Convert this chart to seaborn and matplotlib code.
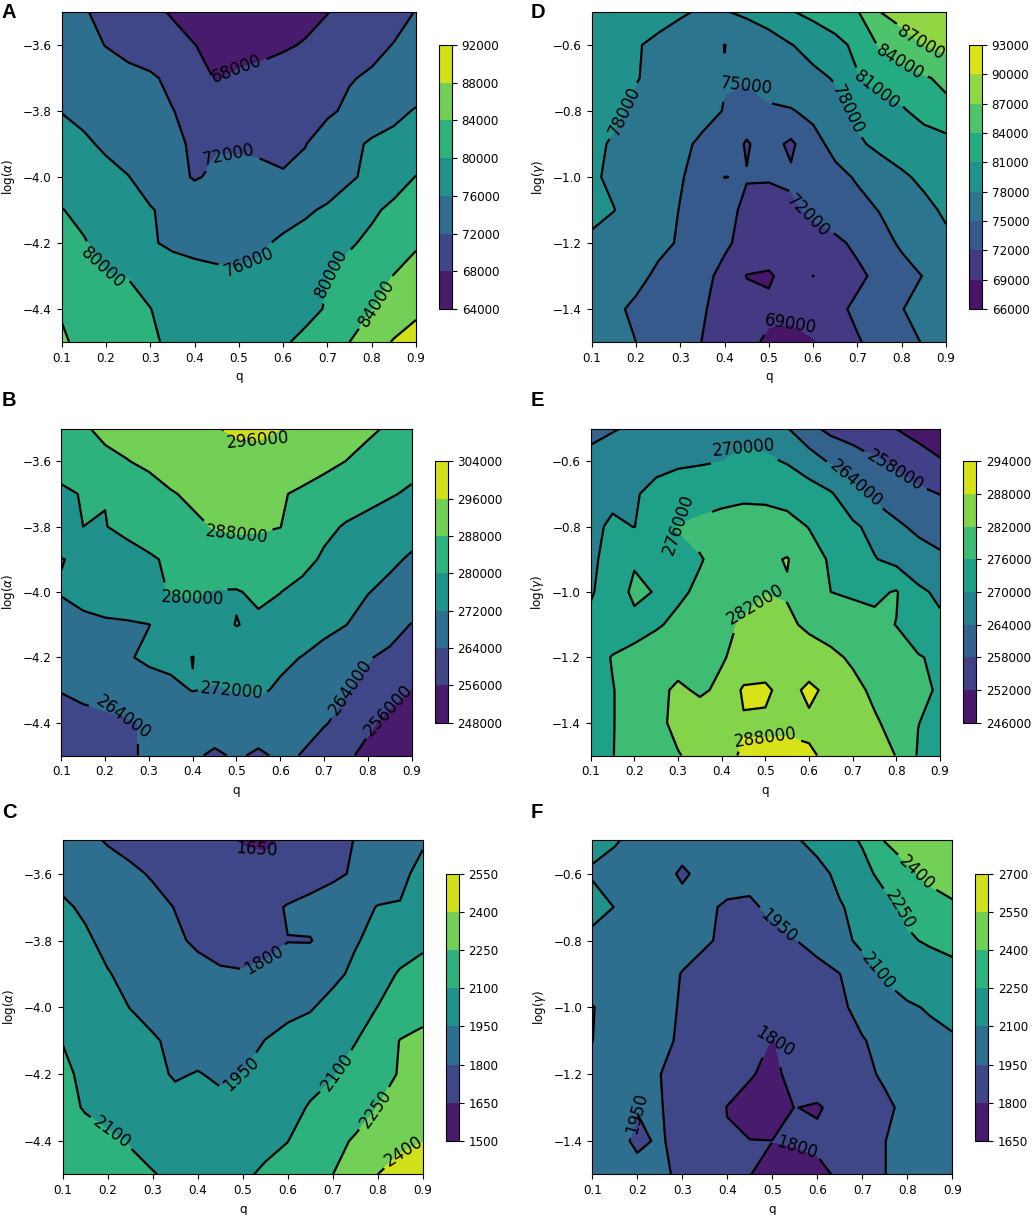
import numpy as np
import matplotlib
matplotlib.use("Agg")
import matplotlib.pyplot as plt
from matplotlib.ticker import FormatStrFormatter
import seaborn as sns

# ---------------- data ----------------
q_values = [0.1, 0.15, 0.2, 0.25, 0.3, 0.35, 0.4, 0.45, 0.5, 0.55, 0.6, 0.65, 0.7, 0.75, 0.8, 0.85, 0.9]
log_alpha = [-3.5, -3.6, -3.7, -3.8, -3.9, -4.0, -4.1, -4.2, -4.3, -4.4, -4.5]
log_gamma = [-0.5, -0.6, -0.7, -0.8, -0.9, -1.0, -1.1, -1.2, -1.3, -1.4, -1.5]

# Panel A (thousands), rows from log(alpha)=-3.5 down to -4.5
A_k = [
    [73.2, 72.3, 71.0, 69.9, 68.8, 67.7, 66.5, 65.8, 65.5, 65.6, 66.0, 66.8, 67.9, 68.9, 70.0, 71.0, 72.1],
    [73.5, 73.0, 71.9, 71.0, 70.0, 69.1, 68.05, 67.2, 66.8, 66.9, 67.5, 68.3, 69.3, 70.2, 71.2, 72.1, 73.0],
    [74.8, 74.3, 73.6, 72.9, 72.5, 71.2, 69.0, 67.8, 68.5, 69.1, 69.8, 70.5, 71.1, 71.8, 72.4, 73.1, 73.8],
    [75.9, 75.2, 74.4, 73.7, 72.9, 72.1, 71.0, 70.2, 69.8, 69.8, 70.0, 70.5, 71.5, 72.6, 73.8, 75.0, 76.3],
    [77.3, 76.5, 75.5, 74.5, 73.5, 72.6, 71.6, 71.7, 71.6, 71.5, 71.4, 71.9, 73.6, 75.1, 76.5, 77.2, 77.8],
    [78.3, 77.6, 76.9, 76.1, 74.7, 73.15, 71.7, 72.6, 72.9, 72.6, 72.2, 72.8, 74.0, 75.5, 76.9, 78.4, 80.1],
    [80.1, 79.3, 78.3, 77.2, 76.2, 75.2, 74.5, 74.2, 74.0, 74.3, 74.8, 75.5, 76.5, 77.9, 79.4, 80.8, 82.2],
    [81.0, 80.2, 79.1, 77.9, 76.4, 75.3, 74.8, 74.6, 74.7, 75.6, 76.5, 77.3, 78.6, 79.6, 80.8, 82.1, 83.6],
    [81.5, 80.8, 80.1, 79.9, 79.0, 78.0, 77.3, 76.8, 76.5, 76.6, 77.2, 78.3, 79.9, 81.3, 82.6, 84.1, 85.3],
    [83.8, 82.8, 81.9, 81.0, 80.05, 79.0, 78.2, 77.6, 77.3, 77.5, 78.1, 79.0, 80.3, 82.2, 83.9, 85.5, 87.0],
    [84.3, 83.4, 82.3, 81.3, 80.4, 79.5, 78.7, 78.2, 78.3, 79.0, 79.6, 80.8, 82.4, 84.0, 86.2, 88.3, 90.0],
]

# Panel B (thousands)
B_k = [
    [286.5, 287.5, 289.0, 290.5, 292.0, 293.4, 294.6, 295.6, 297.0, 297.2, 296.1, 294.7, 292.8, 291.0, 289.0, 287.3, 286.0],
    [283.5, 286.0, 287.0, 287.8, 289.2, 290.6, 291.8, 293.0, 293.8, 293.9, 293.0, 291.6, 289.8, 287.95, 286.2, 284.3, 282.3],
    [278.5, 280.5, 280.2, 283.0, 285.5, 287.6, 288.9, 289.8, 290.3, 290.0, 288.6, 286.9, 285.2, 283.6, 282.0, 280.6, 279.0],
    [279.0, 280.0, 279.8, 281.6, 283.8, 285.6, 287.0, 288.3, 288.8, 288.6, 288.1, 284.5, 281.6, 279.4, 278.0, 276.2, 274.2],
    [271.8, 273.0, 275.5, 277.5, 279.0, 281.2, 283.5, 285.0, 285.6, 285.6, 284.8, 282.2, 279.0, 276.5, 274.8, 273.1, 271.3],
    [272.4, 274.0, 275.6, 277.0, 278.6, 280.3, 281.0, 279.6, 279.5, 281.3, 280.1, 278.0, 276.3, 274.6, 272.2, 270.5, 268.8],
    [269.5, 270.5, 271.0, 271.2, 271.9, 274.0, 276.0, 277.8, 280.2, 278.8, 277.5, 276.0, 274.2, 272.1, 269.6, 267.0, 263.7],
    [268.0, 269.0, 270.0, 271.5, 273.0, 273.6, 271.9, 274.2, 275.6, 275.0, 273.4, 271.8, 269.2, 266.7, 264.5, 262.5, 260.5],
    [264.3, 265.8, 267.0, 268.2, 269.5, 270.6, 272.2, 271.5, 272.3, 273.0, 271.0, 268.5, 266.0, 264.3, 262.0, 258.8, 255.6],
    [261.0, 261.6, 262.3, 263.3, 264.7, 265.8, 266.8, 267.4, 268.0, 267.6, 266.5, 265.4, 264.5, 262.0, 257.2, 254.0, 251.5],
    [260.0, 261.0, 262.0, 263.3, 264.7, 265.6, 265.0, 263.0, 264.8, 263.0, 265.0, 263.8, 260.5, 257.2, 254.2, 251.0, 248.5],
]

# Panel C
C_vals = [
    [1860, 1830, 1790, 1765, 1740, 1715, 1695, 1668, 1642, 1632, 1662, 1730, 1770, 1803, 1850, 1900, 1940],
    [1920, 1880, 1850, 1820, 1790, 1760, 1735, 1715, 1690, 1685, 1705, 1740, 1775, 1815, 1870, 1930, 1975],
    [1965, 1935, 1900, 1865, 1830, 1797, 1765, 1745, 1740, 1760, 1810, 1840, 1870, 1910, 1955, 1955, 1990],
    [2000, 1965, 1925, 1885, 1845, 1815, 1785, 1770, 1770, 1780, 1798, 1795, 1850, 1940, 1985, 2025, 2070],
    [2030, 1990, 1955, 1925, 1890, 1860, 1830, 1810, 1805, 1815, 1835, 1870, 1920, 1975, 2040, 2115, 2150],
    [2060, 2020, 1985, 1948, 1920, 1895, 1875, 1865, 1870, 1900, 1920, 1940, 1990, 2045, 2102, 2150, 2200],
    [2098, 2060, 2020, 1990, 1960, 1930, 1905, 1895, 1910, 1952, 1985, 2010, 2045, 2095, 2160, 2255, 2285],
    [2115, 2085, 2050, 2010, 1975, 1940, 1955, 1935, 1952, 1990, 2030, 2060, 2090, 2150, 2200, 2260, 2320],
    [2140, 2090, 2060, 2030, 2005, 1985, 1975, 1975, 1985, 2010, 2060, 2110, 2150, 2190, 2252, 2320, 2385],
    [2175, 2150, 2120, 2095, 2065, 2040, 2030, 2035, 2050, 2075, 2098, 2160, 2210, 2265, 2320, 2365, 2395],
    [2200, 2170, 2140, 2120, 2105, 2080, 2060, 2065, 2085, 2115, 2150, 2200, 2249, 2320, 2400, 2460, 2520],
]

# Panel D (thousands), rows from log(gamma)=-0.5 down to -1.5
D_k = [
    [79.5, 79.3, 79.0, 78.7, 78.3, 77.7, 77.8, 78.6, 79.6, 80.8, 81.8, 82.8, 83.8, 86.95, 88.3, 89.2, 89.8],
    [79.0, 78.6, 78.15, 77.6, 76.8, 75.9, 74.97, 75.6, 76.6, 77.9, 78.9, 80.1, 81.7, 84.3, 85.5, 87.0, 87.8],
    [78.8, 78.4, 78.1, 77.5, 76.8, 76.0, 75.1, 75.5, 76.2, 76.9, 77.4, 78.2, 80.8, 82.0, 82.9, 83.7, 84.6],
    [78.6, 78.35, 77.6, 77.0, 76.3, 75.7, 74.9, 73.3, 74.6, 74.8, 75.7, 77.1, 78.6, 79.8, 80.6, 82.1, 83.3],
    [78.4, 77.8, 77.2, 76.5, 75.5, 74.6, 73.3, 71.8, 73.0, 71.5, 74.0, 75.9, 77.6, 78.6, 79.0, 79.4, 79.9],
    [78.3, 77.6, 76.8, 76.0, 75.2, 74.0, 71.98, 72.1, 72.2, 72.4, 73.0, 74.2, 75.3, 76.6, 77.7, 78.4, 79.2],
    [78.3, 78.05, 77.1, 76.1, 74.9, 73.8, 72.6, 71.6, 71.0, 71.5, 72.5, 73.4, 74.1, 75.1, 76.4, 77.5, 78.3],
    [77.8, 77.0, 76.3, 75.5, 74.8, 73.6, 72.4, 71.2, 70.5, 70.3, 70.9, 71.5, 72.5, 74.0, 75.4, 76.7, 77.6],
    [77.2, 76.4, 75.6, 74.6, 73.6, 72.7, 71.3, 68.9, 68.7, 70.0, 68.98, 70.4, 71.5, 72.6, 74.0, 75.1, 76.4],
    [76.6, 75.4, 74.6, 73.8, 73.0, 72.2, 71.2, 70.2, 69.5, 69.6, 70.4, 71.4, 72.5, 73.6, 74.9, 76.0, 76.8],
    [76.0, 75.5, 75.0, 74.0, 72.9, 71.95, 70.8, 69.6, 68.6, 68.3, 68.8, 69.9, 71.8, 72.8, 74.0, 75.2, 76.1],
]

# Panel E (thousands)
E_k = [
    [262.5, 263.6, 264.8, 265.6, 266.3, 267.0, 267.8, 268.5, 267.5, 264.3, 259.5, 256.5, 255.0, 253.5, 251.9, 250.0, 248.0],
    [265.5, 266.8, 267.8, 268.8, 269.3, 269.5, 269.95, 271.0, 270.9, 269.6, 267.0, 263.2, 261.0, 258.7, 256.8, 254.6, 252.5],
    [267.0, 268.5, 269.6, 271.2, 272.3, 273.3, 274.0, 274.6, 274.5, 273.8, 272.5, 270.6, 266.0, 262.5, 260.7, 259.2, 257.9],
    [268.5, 271.0, 269.9, 273.5, 276.2, 277.3, 278.5, 279.3, 279.0, 278.0, 275.8, 273.5, 271.0, 268.3, 265.0, 262.8, 260.8],
    [269.2, 271.5, 275.2, 274.5, 274.8, 275.7, 277.5, 279.5, 281.0, 282.3, 278.5, 275.3, 273.0, 270.3, 268.3, 266.6, 265.3],
    [269.6, 272.0, 277.5, 275.6, 275.2, 276.8, 278.5, 280.3, 281.9, 281.5, 279.3, 276.0, 275.3, 275.0, 276.4, 271.0, 269.0],
    [271.0, 272.6, 274.0, 275.5, 277.0, 278.8, 280.8, 282.6, 283.5, 283.0, 281.0, 279.5, 278.4, 277.2, 275.9, 273.6, 271.0],
    [273.5, 276.3, 277.5, 278.5, 279.5, 280.5, 281.6, 283.5, 285.0, 285.0, 284.5, 283.2, 281.2, 279.5, 278.0, 276.3, 275.2],
    [274.5, 275.8, 278.0, 280.5, 283.0, 281.2, 283.0, 288.8, 288.9, 286.0, 289.2, 286.5, 283.5, 281.0, 279.0, 277.0, 275.5],
    [274.8, 275.8, 278.0, 280.5, 283.5, 285.0, 286.2, 287.5, 287.2, 287.3, 287.0, 286.0, 284.5, 282.6, 280.4, 276.1, 274.5],
    [275.0, 275.9, 277.5, 279.8, 281.7, 283.6, 286.5, 288.6, 289.0, 289.0, 288.6, 287.0, 285.0, 283.5, 281.9, 275.5, 273.5],
]

# Panel F
F_vals = [
    [2125, 2106, 2080, 2060, 2045, 2030, 2020, 2015, 2020, 2085, 2140, 2200, 2262, 2405, 2470, 2510, 2540],
    [2090, 2075, 2055, 2030, 1920, 2010, 2000, 1990, 1985, 2010, 2060, 2130, 2210, 2290, 2370, 2440, 2480],
    [2140, 2098, 2070, 2045, 2020, 1970, 1935, 1930, 1975, 2020, 2060, 2090, 2140, 2210, 2275, 2330, 2375],
    [2070, 2060, 2045, 2025, 2000, 1965, 1925, 1905, 1915, 1945, 2000, 2060, 2130, 2190, 2235, 2265, 2290],
    [2050, 2040, 2020, 2000, 1945, 1905, 1880, 1865, 1860, 1870, 1900, 1948, 2040, 2115, 2160, 2185, 2208],
    [2103, 2075, 2040, 2000, 1935, 1890, 1860, 1845, 1830, 1835, 1860, 1920, 2000, 2050, 2085, 2110, 2140],
    [2101, 2070, 2035, 1990, 1925, 1870, 1840, 1820, 1798, 1815, 1845, 1895, 1940, 1995, 2040, 2070, 2085],
    [2085, 2045, 2005, 1952, 1910, 1865, 1835, 1810, 1770, 1840, 1860, 1890, 1925, 1965, 2010, 2040, 2060],
    [2060, 2020, 1955, 1958, 1900, 1845, 1798, 1760, 1750, 1802, 1790, 1830, 1880, 1930, 1975, 2010, 2035],
    [2045, 2000, 1925, 1965, 1905, 1850, 1805, 1802, 1801, 1812, 1820, 1850, 1900, 1948, 1990, 2020, 2040],
    [2035, 2015, 1995, 1970, 1930, 1880, 1835, 1803, 1760, 1745, 1775, 1815, 1880, 1948, 1990, 2015, 2030],
]

A_levels = [64000, 68000, 72000, 76000, 80000, 84000, 88000, 92000]
B_levels = [248000, 256000, 264000, 272000, 280000, 288000, 296000, 304000]
C_levels = [1500, 1650, 1800, 1950, 2100, 2250, 2400, 2550]
D_levels = [66000, 69000, 72000, 75000, 78000, 81000, 84000, 87000, 90000, 93000]
E_levels = [246000, 252000, 258000, 264000, 270000, 276000, 282000, 288000, 294000]
F_levels = [1650, 1800, 1950, 2100, 2250, 2400, 2550, 2700]

# ---------------- layout: where the inline contour labels sit ----------------
LABELS_A = [(0.506, -3.696), (0.476, -3.898), (0.536, -4.297), (0.149, -4.312), (0.698, -4.282), (0.80, -4.373)]
LABELS_B = [(0.548, -3.546), (0.499, -3.835), (0.40, -4.095), (0.499, -4.258), (0.249, -4.355), (0.748, -4.279), (0.843, -4.355)]
LABELS_C = [(0.53, -3.53), (0.548, -3.859), (0.497, -4.20), (0.242, -4.303), (0.717, -4.20), (0.795, -4.305), (0.847, -4.40)]
LABELS_D = [(0.175, -0.802), (0.45, -0.661), (0.60, -1.10), (0.55, -1.438), (0.675, -0.797), (0.75, -0.726), (0.80, -0.645), (0.844, -0.595)]
LABELS_E = [(0.45, -0.549), (0.802, -0.621), (0.70, -0.679), (0.297, -0.789), (0.45, -1.002), (0.50, -1.462)]
LABELS_F = [(0.501, -0.777), (0.73, -0.897), (0.80, -0.697), (0.841, -0.572), (0.515, -1.101), (0.548, -1.44), (0.222, -1.296)]

# ---------------- style ----------------
sns.set_style("ticks", {
    "axes.edgecolor": "black", "axes.labelcolor": "black",
    "xtick.color": "black", "ytick.color": "black", "text.color": "black",
    "xtick.direction": "out", "ytick.direction": "out",
})
plt.rcParams["font.family"] = ["DejaVu Sans"]
plt.rcParams["axes.linewidth"] = 0.8
plt.rcParams["xtick.major.size"] = 3.5
plt.rcParams["ytick.major.size"] = 3.5
plt.rcParams["xtick.major.width"] = 0.8
plt.rcParams["ytick.major.width"] = 0.8
TICK_FS = 8.6

W, H = 1032, 1215
fig = plt.figure(figsize=(W / 100, H / 100), dpi=100)
fig.patch.set_facecolor("white")
cmap = sns.color_palette("viridis", as_cmap=True)


def rect(l, r, t, b):
    return [l / W, 1 - b / H, (r - l) / W, (b - t) / H]


def panel(box, Z, yvals, levels, ylabel, letter, letter_xy, label_pos):
    l, r, t, b = box
    ax = fig.add_axes(rect(l, r, t, b))
    ch = 0.8 * (b - t)
    ct = (t + b) / 2 - ch / 2
    cax = fig.add_axes(rect(r + 23, r + 36, ct, ct + ch))
    Zarr = np.asarray(Z, dtype=float)
    cf = ax.contourf(q_values, yvals, Zarr, levels=levels, cmap=cmap)
    cs = ax.contour(q_values, yvals, Zarr, levels=levels, colors="black", linewidths=1.6)
    ax.set_xlim(0.1, 0.9)
    ax.set_ylim(min(yvals), max(yvals))
    texts = ax.clabel(cs, inline=True, fontsize=12, fmt="%d", manual=label_pos)
    for t_ in texts:
        t_.set_clip_on(False)
    ax.set_xticks([0.1, 0.2, 0.3, 0.4, 0.5, 0.6, 0.7, 0.8, 0.9])
    ax.tick_params(labelsize=TICK_FS)
    ax.set_xlabel("q", fontsize=TICK_FS)
    ax.set_ylabel(ylabel, fontsize=TICK_FS)
    cb = fig.colorbar(cf, cax=cax, ticks=levels)
    cb.ax.yaxis.set_major_formatter(FormatStrFormatter("%d"))
    cb.ax.tick_params(labelsize=TICK_FS)
    cb.outline.set_linewidth(0.8)
    fig.text(letter_xy[0] / W, 1 - letter_xy[1] / H, letter, fontsize=14.5,
             fontweight="bold", family=["Liberation Sans", "DejaVu Sans"],
             ha="left", va="center")


A_vals = [[v * 1000 for v in row] for row in A_k]
B_vals = [[v * 1000 for v in row] for row in B_k]
D_vals = [[v * 1000 for v in row] for row in D_k]
E_vals = [[v * 1000 for v in row] for row in E_k]

panel((61.7, 416.0, 12.0, 342.0), A_vals, log_alpha, A_levels, r"log($\alpha$)", "A", (2, 13), LABELS_A)
panel((61.3, 411.7, 428.5, 755.5), B_vals, log_alpha, B_levels, r"log($\alpha$)", "B", (2, 400), LABELS_B)
panel((62.7, 422.7, 840.3, 1174.4), C_vals, log_alpha, C_levels, r"log($\alpha$)", "C", (2, 813), LABELS_C)
panel((591.7, 946.0, 12.0, 342.0), D_vals, log_gamma, D_levels, r"log($\gamma$)", "D", (531, 13), LABELS_D)
panel((590.7, 940.0, 428.5, 755.5), E_vals, log_gamma, E_levels, r"log($\gamma$)", "E", (531, 400), LABELS_E)
panel((592.2, 952.2, 840.3, 1174.4), F_vals, log_gamma, F_levels, r"log($\gamma$)", "F", (531, 813), LABELS_F)

fig.savefig("out.png", dpi=100)
